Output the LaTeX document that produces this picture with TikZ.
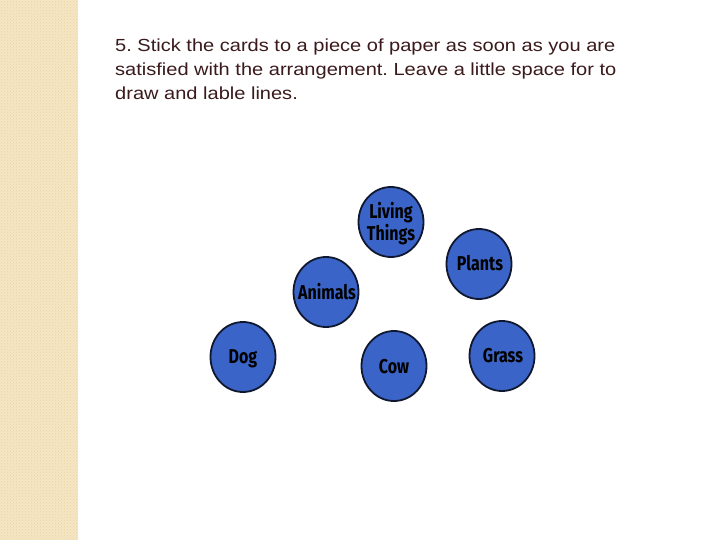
\documentclass[tikz,border=0pt]{standalone}
\usepackage{fontspec}
\setmainfont{Liberation Sans}
\newfontfamily\handfont{Fira Sans}
\usetikzlibrary{shapes.geometric,patterns}
\definecolor{strip}{HTML}{F5E6C4}
\definecolor{stripdot}{HTML}{E9D3A3}
\definecolor{bodytext}{HTML}{3B1A1C}
\definecolor{cardblue}{HTML}{3A64C8}
\definecolor{cardedge}{HTML}{101830}
\newcommand{\cardlabel}[1]{\scalebox{0.8}[1]{\begin{tabular}{@{}c@{}}#1\end{tabular}}}
\tikzset{
  card/.style={ellipse, draw=cardedge, line width=1.8pt, fill=cardblue,
    minimum width=65pt, minimum height=70pt, inner sep=0pt},
  cardtext/.style={inner sep=0pt, align=center,
    font=\handfont\bfseries\fontsize{20}{19}\selectfont, text=black},
}
\begin{document}
\begin{tikzpicture}[x=1pt,y=-1pt]
\useasboundingbox (0,0) rectangle (720,540);
\fill[white] (0,0) rectangle (720,540);
\fill[strip] (0,0) rectangle (78,540);
\fill[pattern=crosshatch dots, pattern color=stripdot] (0,0) rectangle (78,540);
\node[anchor=north west, inner sep=0pt, text=bodytext] (txt) at (115,35)
  {\scalebox{1.145}[1]{\fontsize{17.5}{24}\selectfont\frenchspacing
   \begin{tabular}{@{}l@{}}
   5. Stick the cards to a piece of paper as soon as you are\\
   satisfied with the arrangement. Leave a little space for to\\
   draw and lable lines.
   \end{tabular}}};
\node[card] (living) at (391,222) {};
\node[card] (plants) at (479,264) {};
\node[card] (animals) at (326,292) {};
\node[card] (dog) at (243,357) {};
\node[card] (cow) at (394,366) {};
\node[card] (grass) at (502,356) {};
\node[cardtext] at ([yshift=-2pt]living.center) {\cardlabel{Living\\Things}};
\node[cardtext] at ([xshift=1pt,yshift=-2pt]plants.center) {\cardlabel{Plants}};
\node[cardtext] at ([xshift=1pt,yshift=-2pt]animals.center) {\cardlabel{Animals}};
\node[cardtext] at ([yshift=-2pt]dog.center) {\cardlabel{Dog}};
\node[cardtext] at ([yshift=-3pt]cow.center) {\cardlabel{Cow}};
\node[cardtext] at ([xshift=1pt,yshift=-2pt]grass.center) {\cardlabel{Grass}};
\end{tikzpicture}
\end{document}
